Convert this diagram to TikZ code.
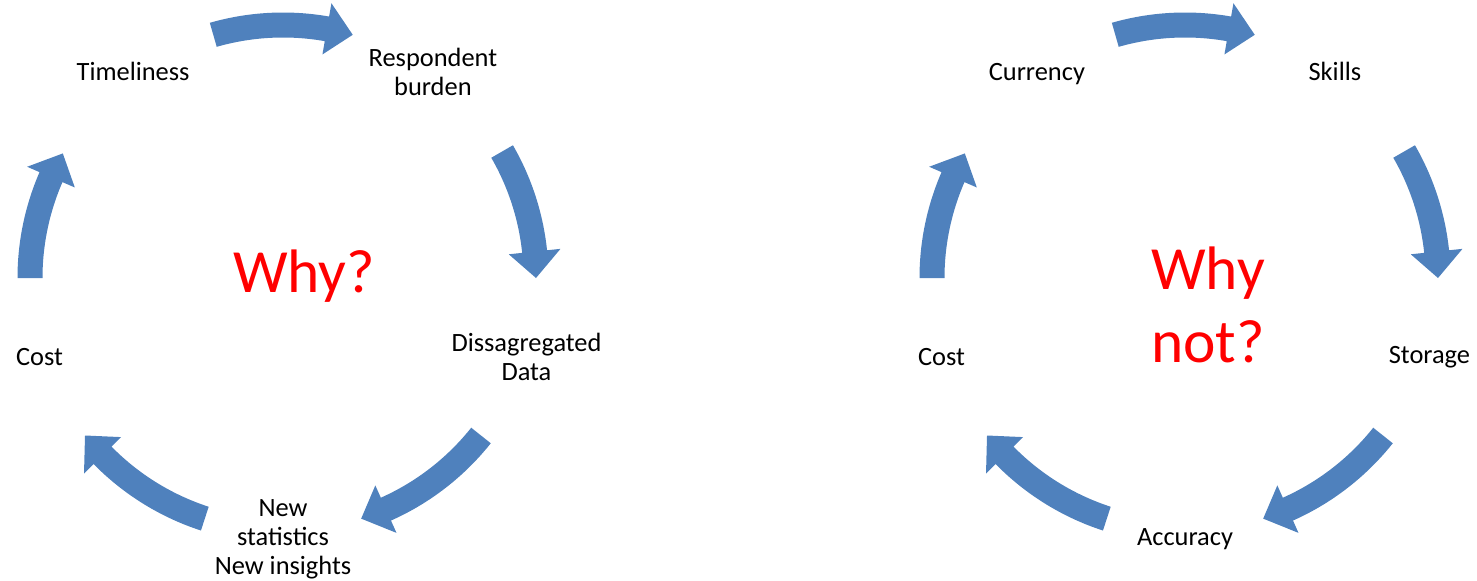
\documentclass[tikz,border=0pt]{standalone}
\usepackage{fontspec}
\setmainfont{Carlito}
\usepackage{xcolor}
\usetikzlibrary{calc}
\definecolor{cycleblue}{HTML}{4F81BD}
\tikzset{
    cyclelabel/.style={align=center, inner sep=0pt, font=\fontsize{13.2}{14.5}\selectfont},
    whylabel/.style={align=center, inner sep=0pt, text=red, font=\fontsize{30.7}{36.5}\selectfont},
    cyclearrow/.style={fill=cycleblue, draw=none},
}
% curved block arrow: centre, tail angle, tip angle (clockwise)
\newcommand{\cyclearc}[3]{%
  \pgfmathsetmacro{\headang}{#3+6}%
  \fill[cyclearrow] ($(#1)+(#2:265.5)$) arc[start angle=#2, end angle=\headang, radius=265.5]
    -- ($(#1)+(\headang:279)$) -- ($(#1)+(#3:253)$) -- ($(#1)+(\headang:227)$)
    -- ($(#1)+(\headang:240.5)$) arc[start angle=\headang, end angle=#2, radius=240.5] -- cycle;}

\begin{document}
\begin{tikzpicture}[x=0.5pt, y=0.5pt]
    \useasboundingbox (0,0) rectangle (1477,-580);

    % why
    \coordinate (whyC) at (283,-278);
    \node[cyclelabel] (timeliness) at ($(whyC)+(126:255)$) {Timeliness};
    \node[cyclelabel] (burden) at ($(whyC)+(54:255)$) {Respondent\\burden};
    \node[cyclelabel] (disagg) at ($(whyC)+(-18:256)$) {Dissagregated\\Data};
    \node[cyclelabel] (newstats) at ($(whyC)+(-90:261)$) {New\\statistics\\New insights};
    \node[cyclelabel] (costL) at ($(whyC)+(198:256)$) {Cost};
    \node[whylabel, anchor=base] (why) at (304,-292) {Why?};

    \cyclearc{whyC}{106}{74}
    \cyclearc{whyC}{30}{0}
    \cyclearc{whyC}{-38.5}{-72}
    \cyclearc{whyC}{-108}{-141.5}
    \cyclearc{whyC}{180}{150.5}

    % why not
    \coordinate (whynotC) at (1185,-278);
    \node[cyclelabel] (currency) at ($(whynotC)+(126:252)$) {Currency};
    \node[cyclelabel] (skills) at ($(whynotC)+(54:255)$) {Skills};
    \node[cyclelabel] (storage) at ($(whynotC)+(-18:257)$) {Storage};
    \node[cyclelabel] (accuracy) at ($(whynotC)+(-90:261)$) {Accuracy};
    \node[cyclelabel] (costR) at ($(whynotC)+(198:256)$) {Cost};
    \node[whylabel] (whynot) at (1208,-305) {Why\\not?};

    \cyclearc{whynotC}{106}{74}
    \cyclearc{whynotC}{30}{0}
    \cyclearc{whynotC}{-38.5}{-72}
    \cyclearc{whynotC}{-108}{-141.5}
    \cyclearc{whynotC}{180}{150.5}
\end{tikzpicture}
\end{document}
